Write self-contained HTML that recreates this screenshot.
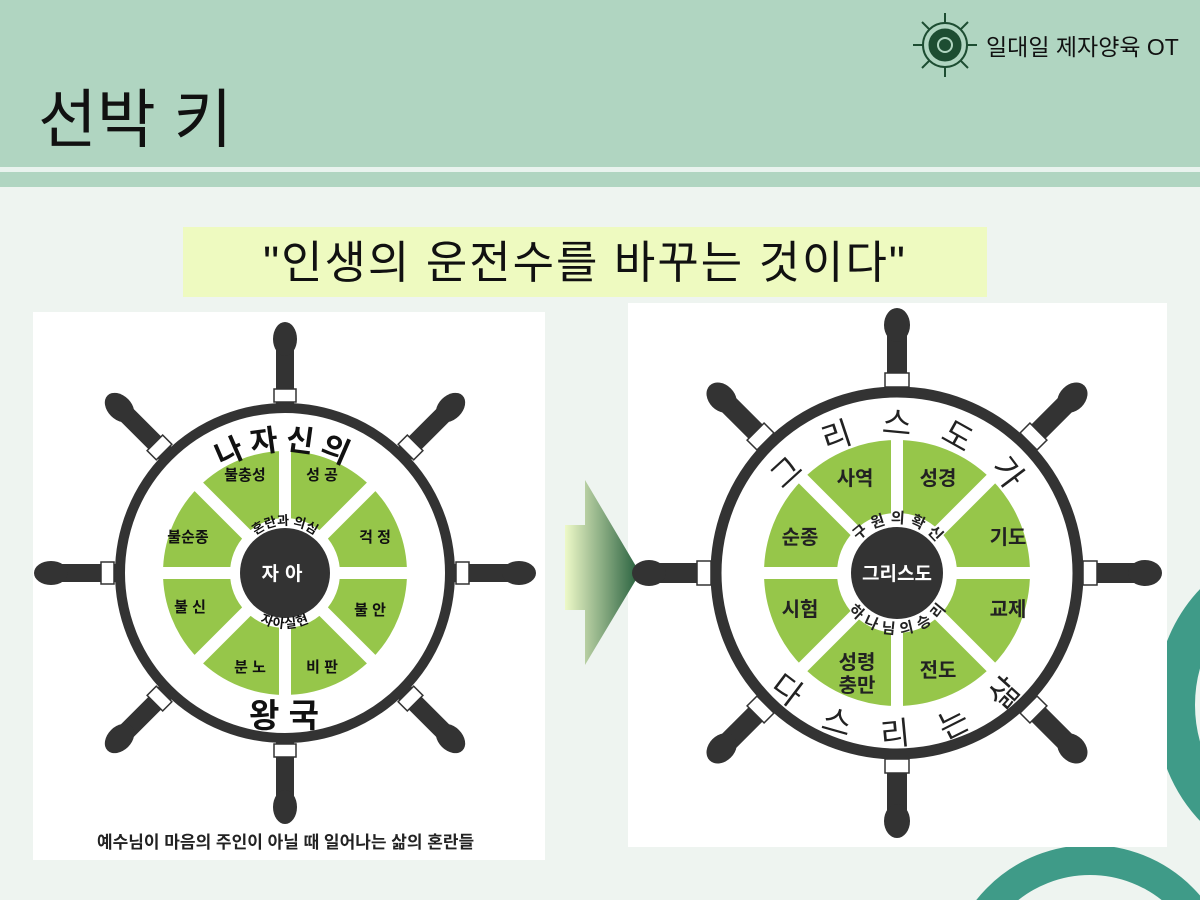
<!DOCTYPE html>
<html><head><meta charset="utf-8"><style>
html,body{margin:0;width:1200px;height:900px;overflow:hidden;background:#eef4f0;font-family:"Liberation Sans","Noto Sans CJK KR",sans-serif}
</style></head><body>
<svg width="1200" height="900" viewBox="0 0 1200 900" xmlns="http://www.w3.org/2000/svg" font-family="Liberation Sans, Noto Sans CJK KR, sans-serif" style="display:block;position:absolute;left:0;top:0">
<defs>
<linearGradient id="ag" x1="0" x2="1" y1="0" y2="0"><stop offset="0" stop-color="#eef9c8"/><stop offset="1" stop-color="#245e3c"/></linearGradient>
<path id="lt1" d="M-123,0 A123,123 0 0 1 123,0"/>
<path id="lt2" d="M-48,0 A48,48 0 0 1 48,0"/>
<path id="lb2" d="M-55,0 A55,55 0 0 0 55,0"/>
<path id="rt1" d="M-138,0 A138,138 0 0 1 138,0"/>
<path id="rb1" d="M-171,0 A171,171 0 0 0 171,0"/>
<path id="rt2" d="M-50,0 A50,50 0 0 1 50,0"/>
<path id="rb2" d="M-61,0 A61,61 0 0 0 61,0"/>
<g id="spL"><rect x="-9" y="-232" width="18" height="232" fill="#333"/><ellipse cx="0" cy="-234" rx="12" ry="17" fill="#333"/><rect x="-11" y="-184" width="22" height="13" fill="#fff" stroke="#333" stroke-width="1.5"/></g>
<g id="spR"><rect x="-10" y="-246" width="20" height="246" fill="#333"/><ellipse cx="0" cy="-248" rx="13" ry="17" fill="#333"/><rect x="-12" y="-200" width="24" height="14" fill="#fff" stroke="#333" stroke-width="1.5"/></g>
</defs>
<rect width="1200" height="167" fill="#b0d5c1"/>
<rect y="167" width="1200" height="5" fill="#e9f3ee"/>
<rect y="172" width="1200" height="15" fill="#b0d5c1"/>
<text x="38" y="142" font-size="64" fill="#111">선박 키</text>
<g transform="translate(945,45)" stroke="#1d4d32" fill="none">
<circle r="22" stroke-width="2"/><circle r="16" fill="#1d4d32"/><circle r="8" fill="#b0d5c1" stroke="none"/><circle r="6" fill="#1d4d32" stroke="none"/>
<path d="M0,-32V-22M0,22V32M-32,0H-22M22,0H32M-23,-23L-16,-16M23,-23L16,-16M-23,23L-16,16M23,23L16,16" stroke-width="2"/>
</g>
<text x="986" y="55" font-size="23" fill="#111">일대일 제자양육 OT</text>
<rect x="183" y="227" width="804" height="70" fill="#eefac0"/>
<text x="585" y="278" font-size="45" text-anchor="middle" fill="#111" letter-spacing="2">"인생의 운전수를 바꾸는 것이다"</text>
<ellipse cx="1300" cy="705" rx="125" ry="140" fill="none" stroke="#3f9b88" stroke-width="40"/>
<circle cx="1090" cy="990" r="130" fill="none" stroke="#3f9b88" stroke-width="30"/>
<rect x="33" y="312" width="512" height="548" fill="#fff"/>
<rect x="628" y="303" width="539" height="544" fill="#fff"/>
<path d="M565,525H585V480L640,573L585,665V610H565Z" fill="url(#ag)"/>

<!-- LEFT WHEEL -->
<g transform="translate(285,573)">
<use href="#spL"/><use href="#spL" transform="rotate(45)"/><use href="#spL" transform="rotate(90)"/><use href="#spL" transform="rotate(135)"/>
<use href="#spL" transform="rotate(180)"/><use href="#spL" transform="rotate(225)"/><use href="#spL" transform="rotate(270)"/><use href="#spL" transform="rotate(315)"/>
<circle r="165" fill="#fff" stroke="#333" stroke-width="10"/>
<circle r="88.5" fill="none" stroke="#96c64a" stroke-width="67"/>
<g stroke="#fff" stroke-width="12">
<line x1="0" y1="-130" x2="0" y2="130"/><line x1="-130" y1="0" x2="130" y2="0"/>
<line x1="-92" y1="-92" x2="92" y2="92"/><line x1="92" y1="-92" x2="-92" y2="92"/>
</g>
<circle r="45" fill="#333"/>
<text x="0" y="7" font-size="19" font-weight="bold" text-anchor="middle" fill="#fff" letter-spacing="6">자아</text>
<text font-size="30" font-weight="bold" fill="#111" text-anchor="middle" letter-spacing="6"><textPath href="#lt1" startOffset="50%">나자신의</textPath></text>
<text font-size="13" font-weight="bold" fill="#111" text-anchor="middle"><textPath href="#lt2" startOffset="50%">혼란과 의심</textPath></text>
<text font-size="13" font-weight="bold" fill="#111" text-anchor="middle" letter-spacing="1"><textPath href="#lb2" startOffset="50%">자아실현</textPath></text>
</g>
<g font-size="15" font-weight="bold" text-anchor="middle" fill="#111">
<text x="245" y="480">불충성</text><text x="322" y="480">성 공</text>
<text x="375" y="542">걱 정</text><text x="370" y="615">불 안</text>
<text x="322" y="672">비 판</text><text x="250" y="672">분 노</text>
<text x="190" y="612">불 신</text><text x="188" y="542">불순종</text>
</g>
<text x="284" y="727" font-size="33" font-weight="bold" text-anchor="middle" fill="#111">왕 국</text>
<text x="97" y="848" font-size="17" font-weight="bold" fill="#222">예수님이 마음의 주인이 아닐 때 일어나는 삶의 혼란들</text>

<!-- RIGHT WHEEL -->
<g transform="translate(897,573)">
<use href="#spR"/><use href="#spR" transform="rotate(45)"/><use href="#spR" transform="rotate(90)"/><use href="#spR" transform="rotate(135)"/>
<use href="#spR" transform="rotate(180)"/><use href="#spR" transform="rotate(225)"/><use href="#spR" transform="rotate(270)"/><use href="#spR" transform="rotate(315)"/>
<circle r="181" fill="#fff" stroke="#333" stroke-width="11"/>
<circle r="96.5" fill="none" stroke="#96c64a" stroke-width="73"/>
<g stroke="#fff" stroke-width="12">
<line x1="0" y1="-140" x2="0" y2="140"/><line x1="-140" y1="0" x2="140" y2="0"/>
<line x1="-100" y1="-100" x2="100" y2="100"/><line x1="100" y1="-100" x2="-100" y2="100"/>
</g>
<circle r="46" fill="#333"/>
<text x="0" y="7" font-size="19" font-weight="bold" text-anchor="middle" fill="#fff">그리스도</text>
<text font-size="32" fill="#222" text-anchor="middle" letter-spacing="28"><textPath href="#rt1" startOffset="53%">그리스도가</textPath></text>
<text font-size="32" fill="#222" text-anchor="middle" letter-spacing="34"><textPath href="#rb1" startOffset="53%">다스리는삶</textPath></text>
<text font-size="15" font-weight="bold" fill="#222" text-anchor="middle" letter-spacing="5"><textPath href="#rt2" startOffset="52%">구원의확신</textPath></text>
<text font-size="15" font-weight="bold" fill="#222" text-anchor="middle" letter-spacing="6"><textPath href="#rb2" startOffset="52%">하나님의승리</textPath></text>
</g>
<g font-size="20" font-weight="bold" text-anchor="middle" fill="#222">
<text x="855" y="485">사역</text><text x="938" y="485">성경</text>
<text x="1008" y="544">기도</text><text x="1008" y="616">교제</text>
<text x="938" y="677">전도</text><text x="857" y="669">성령</text><text x="857" y="692">충만</text>
<text x="800" y="616">시험</text><text x="800" y="544">순종</text>
</g>
</svg>
</body></html>
